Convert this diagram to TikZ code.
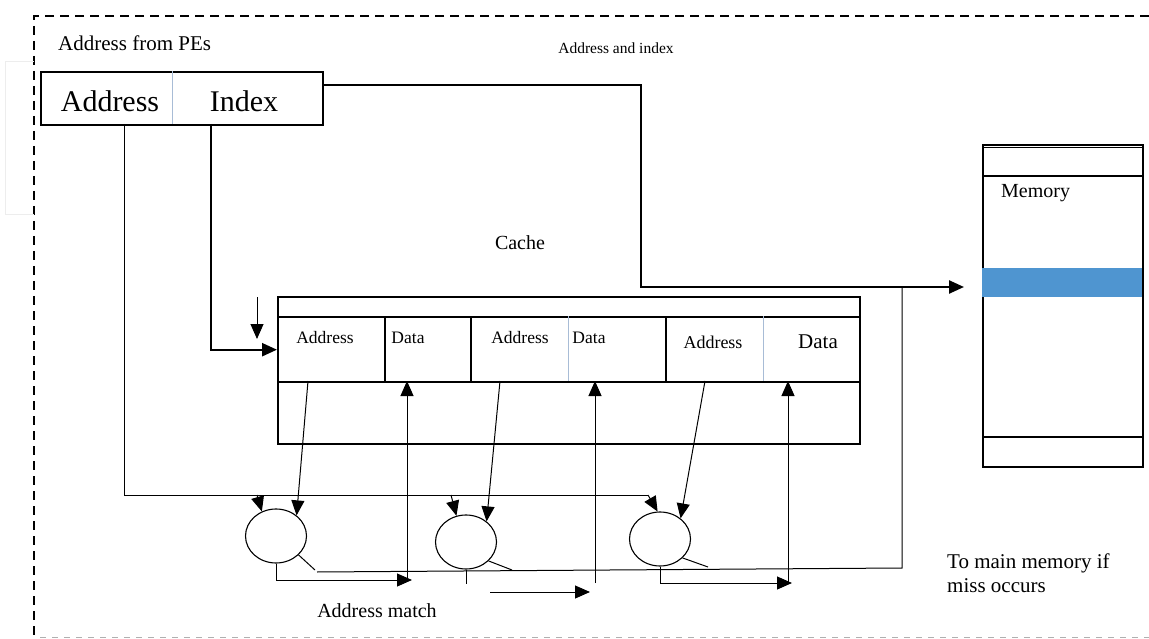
\documentclass[tikz,border=0pt]{standalone}
\usepackage{fontspec}
\setmainfont{Liberation Serif}
\usetikzlibrary{arrows.meta,shapes.geometric,positioning}
\definecolor{bandblue}{HTML}{4F95D0}
\definecolor{splitblue}{HTML}{A8BCD6}
\definecolor{faintgray}{HTML}{EDEDED}
\definecolor{framegray}{HTML}{B0B0B0}

\begin{document}
\begin{tikzpicture}[x=1pt,y=-1pt,
    box/.style={draw,line width=2.4pt,inner sep=0pt,anchor=north west},
    cmp/.style={draw,ellipse,line width=1.1pt,minimum width=61pt,minimum height=54pt,inner sep=0pt},
    wire/.style={line width=1pt},
    bus/.style={line width=2.4pt},
    tip/.style={-{Triangle[length=15pt,width=13pt]}},
    lbl/.style={inner sep=0pt,font=\fontsize{20}{23}\selectfont}]
  % page is 1149 x 639, one unit per pixel, y runs downwards
  \useasboundingbox (0,0) rectangle (1149,639);

  % dashed frame, open to the right
  \draw[line width=2.2pt,dash pattern=on 9pt off 6pt] (1149,16) -- (34,16) -- (34,638);
  \draw[framegray,line width=1pt,dash pattern=on 6pt off 6pt] (40,637) -- (1149,637);
  \draw[faintgray,line width=1pt] (34,62) -- (5,62) -- (5,215) -- (34,215);

  % address register from the PEs
  \node[lbl,anchor=west,font=\fontsize{21}{24}\selectfont] (petitle) at (58,43) {Address from PEs};
  \node[box,minimum width=282pt,minimum height=53pt] (pe) at (40,71) {};
  \draw[splitblue,line width=0.8pt] (172,71) -- (172,124);
  \node[inner sep=0pt,font=\fontsize{30}{34}\selectfont] (peaddr) at (110,101) {Address};
  \node[inner sep=0pt,font=\fontsize{30}{34}\selectfont] (peidx) at (244,101) {Index};
  \node[inner sep=0pt,font=\fontsize{15.5}{18}\selectfont] (busnote) at (616,48) {Address and index};

  % cache with three address/data slots
  \node[lbl] (cachetitle) at (520,243) {Cache};
  \node[box,minimum width=582pt,minimum height=147pt] (cache) at (277,296) {};
  \node[box,minimum width=193pt,minimum height=65pt] (slot1) at (277,316) {};
  \node[box,minimum width=195pt,minimum height=65pt] (slot2) at (470,316) {};
  \node[box,minimum width=194pt,minimum height=65pt] (slot3) at (665,316) {};
  \draw[line width=2.4pt] (385,316) -- (385,381);
  \foreach \x in {568,763}
    \draw[splitblue,line width=0.8pt] (\x,316) -- (\x,381);
  \node[inner sep=0pt,font=\fontsize{17.5}{20}\selectfont] (a1) at (325,338) {Address};
  \node[inner sep=0pt,font=\fontsize{17.5}{20}\selectfont] (d1) at (408,338) {Data};
  \node[inner sep=0pt,font=\fontsize{17.5}{20}\selectfont] (a2) at (520,338) {Address};
  \node[inner sep=0pt,font=\fontsize{17.5}{20}\selectfont] (d2) at (589,338) {Data};
  \node[inner sep=0pt,font=\fontsize{18}{20}\selectfont] (a3) at (713,342) {Address};
  \node[inner sep=0pt,font=\fontsize{21}{24}\selectfont] (d3) at (818,342) {Data};

  % main memory
  \node[box,line width=2pt,minimum width=160pt,minimum height=322pt] (mem) at (982,144) {};
  \fill[bandblue] (982,268) rectangle (1142,297);
  \draw[line width=1pt] (982,148) -- (1142,148);
  \draw[line width=2pt] (982,176) -- (1142,176);
  \draw[line width=2pt] (982,437) -- (1142,437);
  \node[lbl,anchor=west] (memtitle) at (1001,193) {Memory};

  % comparators
  \node[cmp] (cmp1) at (276,536) {};
  \node[cmp] (cmp2) at (466,542) {};
  \node[cmp] (cmp3) at (660,539) {};

  % junctions and tips
  \coordinate (memin) at (964,287);
  \coordinate (misscorner) at (902,568);
  \coordinate (up1) at (407,381);
  \coordinate (up2) at (595,381);
  \coordinate (up3) at (788,381);

  % address and index buses
  \draw[bus,tip] (322,85) -- (641,85) |- (memin);
  \draw[bus,tip] (211,124) |- (slot1.west);
  \draw[wire,tip] (257,297) -- (257,339);

  % address bus to the comparators
  \draw[wire] (124,124) -- (124,495) -- (648,495);
  \draw[wire,tip] (257,495) -- (cmp1.120);
  \draw[wire,tip] (451,495) -- (cmp2.110);
  \draw[wire,tip] (648,495) -- (cmp3.95);

  % stored addresses to the comparators
  \draw[wire,tip] (308,381) -- (cmp1.45);
  \draw[wire,tip] (500,381) -- (cmp2.45);
  \draw[wire,tip] (705,381) -- (cmp3.45);

  % miss line to main memory
  \draw[wire] (cmp1.-40) -- (315,570);
  \draw[wire] (cmp2.-40) -- (512,570);
  \draw[wire] (cmp3.-40) -- (708,567);
  \draw[wire] (317,572) -- (misscorner) -- (902,287);

  % address match, data read out
  \draw[wire,tip] (cmp1.south) |- (412,580);
  \draw[wire,tip] (407,580) -- (up1);
  \draw[wire] (cmp2.south) -- ++(0,14);
  \draw[wire,tip] (490,592) -- (590,592);
  \draw[wire,tip] (595,583) -- (up2);
  \draw[wire,tip] (cmp3.south) |- (792,583);
  \draw[wire,tip] (788,583) -- (up3);

  \node[lbl] (matchnote) at (377,611) {Address match};
  \node[lbl,anchor=west,align=left,font=\fontsize{21}{24}\selectfont] (missnote) at (947,573) {To main memory if\\miss occurs};
\end{tikzpicture}
\end{document}
